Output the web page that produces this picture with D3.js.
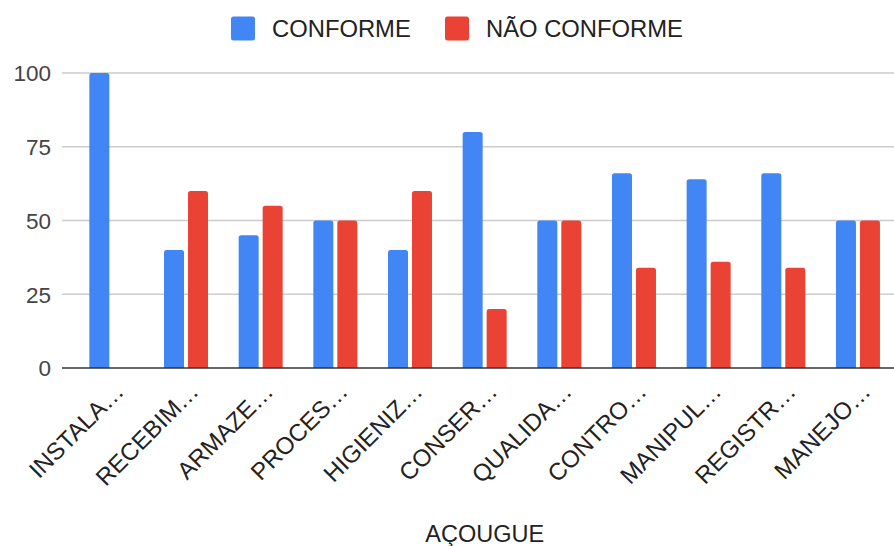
<!DOCTYPE html>
<html>
<head>
<meta charset="utf-8">
<script src="https://cdn.jsdelivr.net/npm/d3@7"></script>
<style>
  html, body { margin: 0; padding: 0; background: #fff; }
  svg { display: block; font-family: "Liberation Sans", Arial, sans-serif; }
</style>
</head>
<body>
<svg id="chart" width="894" height="546"></svg>
<script>
const categories = ["INSTALA…", "RECEBIM…", "ARMAZE…", "PROCES…", "HIGIENIZ…", "CONSER…", "QUALIDA…", "CONTRO…", "MANIPUL…", "REGISTR…", "MANEJO…"];
const seriesNames = ["CONFORME", "NÃO CONFORME"];
const conforme = [100, 40, 45, 50, 40, 80, 50, 66, 64, 66, 50];
const naoConforme = [0, 60, 55, 50, 60, 20, 50, 34, 36, 34, 50];
const yTicks = [0, 25, 50, 75, 100];
const xTitle = "AÇOUGUE";
const colors = ["#4285F4", "#EA4335"];

const svg = d3.select("#chart");
const gridLeft = 62, gridRight = 894;

const x = d3.scaleBand().domain(categories).range([74, 895.3]).padding(0);
const groupW = 44;
const xs = d3.scaleBand().domain(seriesNames).range([0, groupW]).paddingInner(1/6).paddingOuter(0);
const y = d3.scaleLinear().domain([0, 100]).range([368, 73]);

// gridlines
const grid = svg.append("g");
grid.selectAll("line").data(yTicks.filter(t => t !== 0)).enter().append("line")
  .attr("x1", gridLeft).attr("x2", gridRight)
  .attr("y1", d => y(d)).attr("y2", d => y(d))
  .attr("stroke", "#cccccc").attr("stroke-width", 1.3);

// y axis labels
const yAxis = d3.axisLeft(y).tickValues(yTicks).tickSize(0).tickPadding(0);
const yg = svg.append("g").attr("transform", "translate(51,0)").call(yAxis);
yg.select(".domain").remove();
yg.selectAll("text").attr("font-size", 22.5).attr("fill", "#444")
  .attr("font-family", "'Liberation Sans', Arial, sans-serif").attr("dy", "0.35em");

// bars
const rows = categories.map((c, i) => ({ cat: c, vals: [conforme[i], naoConforme[i]] }));
function topRounded(x0, y0, w, h, r) {
  if (h <= 0) return "";
  r = Math.min(r, h, w / 2);
  return `M${x0},${y0 + h}V${y0 + r}Q${x0},${y0} ${x0 + r},${y0}H${x0 + w - r}Q${x0 + w},${y0} ${x0 + w},${y0 + r}V${y0 + h}Z`;
}
const groups = svg.append("g").selectAll("g").data(rows).enter().append("g")
  .attr("transform", d => `translate(${x(d.cat) + x.bandwidth() / 2 - groupW / 2},0)`);
groups.selectAll("path").data(d => d.vals.map((v, k) => ({ v, k }))).enter().append("path")
  .attr("d", d => topRounded(xs(seriesNames[d.k]), y(d.v), xs.bandwidth(), y(0) - y(d.v), 2.5))
  .attr("fill", d => colors[d.k]);

// baseline
svg.append("line").attr("x1", gridLeft).attr("x2", gridRight)
  .attr("y1", y(0)).attr("y2", y(0)).attr("stroke", "#333").attr("stroke-width", 1.6);

// x labels
const xAxis = d3.axisBottom(x).tickSize(0).tickPadding(0);
const xg = svg.append("g").attr("transform", `translate(0,${y(0)})`).call(xAxis);
xg.select(".domain").remove();
xg.selectAll("text")
  .attr("font-size", 24).attr("fill", "#222")
  .attr("font-family", "'Liberation Sans', Arial, sans-serif")
  .attr("text-anchor", "end")
  .attr("y", 0).attr("dy", 0)
  .attr("transform", "translate(14,25) rotate(-45)");

// x title
svg.append("text").attr("x", (x.range()[0] + x.range()[1]) / 2).attr("y", 542)
  .attr("text-anchor", "middle").attr("font-size", 23.5).attr("fill", "#222")
  .text(xTitle);

// legend
const legendItems = [{ name: seriesNames[0], sx: 231, tx: 272 }, { name: seriesNames[1], sx: 445, tx: 486 }];
const lg = svg.append("g");
legendItems.forEach((it, i) => {
  lg.append("rect").attr("x", it.sx).attr("y", 16.5).attr("width", 24).attr("height", 24)
    .attr("rx", 2.5).attr("fill", colors[i]);
  lg.append("text").attr("x", it.tx).attr("y", 28.5).attr("dy", "0.35em")
    .attr("font-size", 23.8).attr("fill", "#222").text(it.name);
});
</script>
</body>
</html>
